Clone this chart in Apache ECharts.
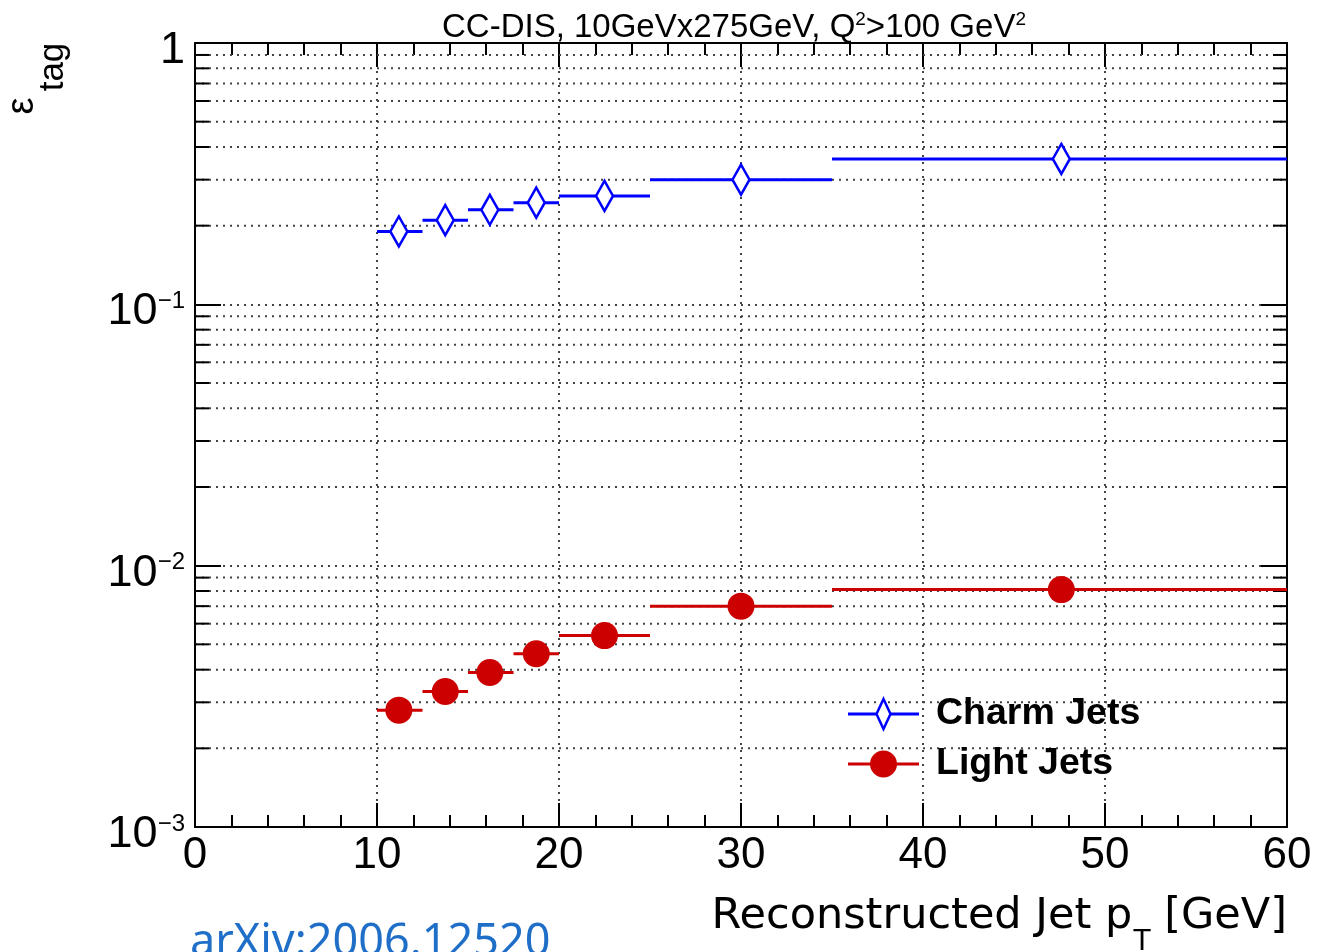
<!DOCTYPE html>
<html>
<head>
<meta charset="utf-8">
<script src="https://cdn.jsdelivr.net/npm/echarts@6/dist/echarts.min.js"></script>
<style>
  html, body { margin: 0; padding: 0; background: #ffffff; }
  #chart { width: 1317px; height: 952px; }
</style>
</head>
<body>
<div id="chart"></div>
<script>
// Reconstructed jet pT bins [GeV] and the mean pT of the jets in each bin
const binLow  = [10, 12.5, 15, 17.5, 20, 25, 35];
const binHigh = [12.5, 15, 17.5, 20, 25, 35, 60];
const binMean = [11.2, 13.75, 16.2, 18.75, 22.5, 30, 47.6];

// Tagging efficiency per bin
const charmEff = [0.19, 0.21, 0.23, 0.245, 0.26, 0.30, 0.36];
const lightEff = [0.0028, 0.0033, 0.0039, 0.0046, 0.0054, 0.0070, 0.0081];

// Axis ticks
const yDecades = [0.001, 0.01, 0.1, 1];
const yDecadeLabels = [['10', '−3'], ['10', '−2'], ['10', '−1'], ['1', '']];
const yMinorSteps = [2, 3, 4, 5, 6, 7, 8, 9];

const charmColor = '#0000ff';
const lightColor = '#cc0000';
const tickFont = 'Liberation Sans';
const titleFont = 'DejaVu Sans';

const X_MIN = 0, X_MAX = 60;

// minor log ticks (2..9 x 10^k) inside each decade
const minorValues = [];
yDecades.slice(0, -1).forEach(d => yMinorSteps.forEach(m => minorValues.push([X_MIN, +(d * m).toPrecision(3)])));

const charmData = binLow.map((lo, i) => [lo, binHigh[i], binMean[i], charmEff[i]]);
const lightData = binLow.map((lo, i) => [lo, binHigh[i], binMean[i], lightEff[i]]);

function binRenderer(color, marker) {
  return function (params, api) {
    const y = api.value(3);
    const lo = api.coord([api.value(0), y]);
    const hi = api.coord([api.value(1), y]);
    const c = api.coord([api.value(2), y]);
    const children = [{
      type: 'line',
      shape: { x1: lo[0], y1: lo[1], x2: hi[0], y2: hi[1] },
      style: { stroke: color, lineWidth: 3 }
    }];
    if (marker === 'diamond') {
      children.push({
        type: 'polygon',
        shape: { points: [[c[0], c[1] - 15], [c[0] + 8.5, c[1]], [c[0], c[1] + 15], [c[0] - 8.5, c[1]]] },
        style: { fill: '#ffffff', stroke: color, lineWidth: 2.5 }
      });
    } else {
      children.push({
        type: 'circle',
        shape: { cx: c[0], cy: c[1], r: 13.5 },
        style: { fill: color }
      });
    }
    return { type: 'group', children };
  };
}

// x-axis title pieces: "Reconstructed Jet p", subscript "T", " [GeV]"
const measureCtx = document.createElement('canvas').getContext('2d');
function textWidth(str, font) { measureCtx.font = font; return measureCtx.measureText(str).width; }
const xTitleRight = 1287;
const xTitleMainFont = '43px "' + titleFont + '"';
const xTitleSubFont = '30px "' + titleFont + '"';
const wUnit = textWidth(' [GeV]', xTitleMainFont);
const wSub = textWidth('T', xTitleSubFont);

const axisLineStyle = { color: '#000', width: 2 };
const dotted = { color: '#444', width: 2, type: [2, 5] };

const xAxisBase = {
  type: 'value', min: X_MIN, max: X_MAX, interval: 10,
  axisLine: { show: true, onZero: false, lineStyle: axisLineStyle },
  axisTick: { show: true, inside: true, length: 24, lineStyle: axisLineStyle },
  minorTick: { show: true, splitNumber: 5, length: 12, lineStyle: axisLineStyle }
};
const yAxisBase = {
  type: 'log', logBase: 10, min: 0.001, max: 1, splitNumber: 3,
  axisLine: { show: true, onZero: false, lineStyle: axisLineStyle },
  axisTick: { show: true, inside: true, length: 26, lineStyle: axisLineStyle }
};

const chart = echarts.init(document.getElementById('chart'), null, { renderer: 'canvas' });

chart.setOption({
  animation: false,
  backgroundColor: '#ffffff',
  title: {
    text: '{a|CC-DIS, 10GeVx275GeV, Q}{s|2}{a|>100 GeV}{s|2}',
    left: 437, top: 5,
    textStyle: {
      fontFamily: tickFont, fontSize: 33, color: '#000', fontWeight: 'normal',
      rich: {
        a: { fontFamily: tickFont, fontSize: 33, lineHeight: 36, color: '#000' },
        s: { fontFamily: tickFont, fontSize: 19, lineHeight: 19, verticalAlign: 'top', color: '#000' }
      }
    }
  },
  grid: { left: 195, right: 30, top: 43, bottom: 125, containLabel: false, outerBoundsMode: 'none' },
  xAxis: [
    Object.assign({}, xAxisBase, {
      position: 'bottom',
      axisLabel: { show: true, fontFamily: tickFont, fontSize: 44, color: '#000', margin: 7, showMinLabel: true, showMaxLabel: true },
      splitLine: { show: true, lineStyle: dotted }
    }),
    Object.assign({}, xAxisBase, {
      position: 'top',
      axisLabel: { show: false },
      splitLine: { show: false }
    })
  ],
  yAxis: [
    Object.assign({}, yAxisBase, {
      position: 'left',
      axisLabel: {
        show: true, margin: 10, showMinLabel: true, showMaxLabel: true,
        padding: [15, 0, 0, 0],
        formatter: function (v) {
          const i = yDecades.findIndex(d => Math.abs(Math.log10(d) - Math.log10(v)) < 1e-6);
          if (i < 0) return '';
          const lab = yDecadeLabels[i];
          return lab[1] ? '{b|' + lab[0] + '}{s|' + lab[1] + '}' : '{b|' + lab[0] + '}';
        },
        rich: {
          b: { fontFamily: tickFont, fontSize: 45, lineHeight: 45, color: '#000' },
          s: { fontFamily: tickFont, fontSize: 24, lineHeight: 24, verticalAlign: 'top', color: '#000' }
        }
      },
      splitLine: { show: true, lineStyle: dotted }
    }),
    Object.assign({}, yAxisBase, {
      position: 'right',
      axisLabel: { show: false },
      splitLine: { show: false }
    })
  ],
  series: [
    {
      // dotted gridlines and short ticks at the minor log positions
      type: 'custom', name: 'minor', silent: true, z: 1,
      data: minorValues,
      encode: { x: 0, y: 1 },
      renderItem: function (params, api) {
        const v = api.value(1);
        const a = api.coord([X_MIN, v]);
        const b = api.coord([X_MAX, v]);
        return {
          type: 'group', children: [
            { type: 'line', shape: { x1: a[0], y1: a[1], x2: b[0], y2: b[1] }, style: { stroke: '#444', lineWidth: 2, lineDash: [2, 5] } },
            { type: 'line', shape: { x1: a[0], y1: a[1], x2: a[0] + 14, y2: a[1] }, style: { stroke: '#000', lineWidth: 2 } },
            { type: 'line', shape: { x1: b[0] - 14, y1: b[1], x2: b[0], y2: b[1] }, style: { stroke: '#000', lineWidth: 2 } }
          ]
        };
      }
    },
    {
      type: 'custom', name: 'Charm Jets', z: 5,
      data: charmData,
      encode: { x: [0, 1, 2], y: 3 },
      renderItem: binRenderer(charmColor, 'diamond')
    },
    {
      type: 'custom', name: 'Light Jets', z: 5,
      data: lightData,
      encode: { x: [0, 1, 2], y: 3 },
      renderItem: binRenderer(lightColor, 'circle')
    }
  ],
  graphic: [
    // legend entries
    { type: 'line', z: 10, shape: { x1: 848, y1: 714, x2: 919, y2: 714 }, style: { stroke: charmColor, lineWidth: 3 } },
    { type: 'polygon', z: 11, shape: { points: [[883.5, 699], [890.5, 714], [883.5, 729], [876.5, 714]] }, style: { fill: '#fff', stroke: charmColor, lineWidth: 2.5 } },
    { type: 'text', z: 10, x: 936, y: 714, style: { text: 'Charm Jets', fontFamily: tickFont, fontWeight: 'bold', fontSize: 37.5, fill: '#000', align: 'left', verticalAlign: 'middle' } },
    { type: 'line', z: 10, shape: { x1: 848, y1: 764, x2: 919, y2: 764 }, style: { stroke: lightColor, lineWidth: 3 } },
    { type: 'circle', z: 11, shape: { cx: 883.5, cy: 764, r: 13.5 }, style: { fill: lightColor } },
    { type: 'text', z: 10, x: 936, y: 764, style: { text: 'Light Jets', fontFamily: tickFont, fontWeight: 'bold', fontSize: 37.5, fill: '#000', align: 'left', verticalAlign: 'middle' } },
    // y axis title: epsilon_tag
    { type: 'text', x: 23, y: 106, rotation: Math.PI / 2, style: { text: 'ε', fontFamily: tickFont, fontSize: 38, fill: '#000', align: 'center', verticalAlign: 'middle' } },
    { type: 'text', x: 53, y: 67, rotation: Math.PI / 2, style: { text: 'tag', fontFamily: tickFont, fontSize: 35, fill: '#000', align: 'center', verticalAlign: 'middle' } },
    // x axis title
    { type: 'text', x: xTitleRight, y: 917, style: { text: ' [GeV]', fontFamily: titleFont, fontSize: 43, fill: '#000', align: 'right', verticalAlign: 'middle' } },
    { type: 'text', x: xTitleRight - wUnit, y: 943, style: { text: 'T', fontFamily: titleFont, fontSize: 28, fill: '#000', align: 'right', verticalAlign: 'middle' } },
    { type: 'text', x: xTitleRight - wUnit - wSub, y: 917, style: { text: 'Reconstructed Jet p', fontFamily: titleFont, fontSize: 43, fill: '#000', align: 'right', verticalAlign: 'middle' } },
    // reference label
    { type: 'text', x: 190, y: 943, style: { text: 'arXiv:2006.12520', fontFamily: 'Noto Sans', fontSize: 45, fill: '#1f6fc8', align: 'left', verticalAlign: 'middle' } }
  ]
});
</script>
</body>
</html>
